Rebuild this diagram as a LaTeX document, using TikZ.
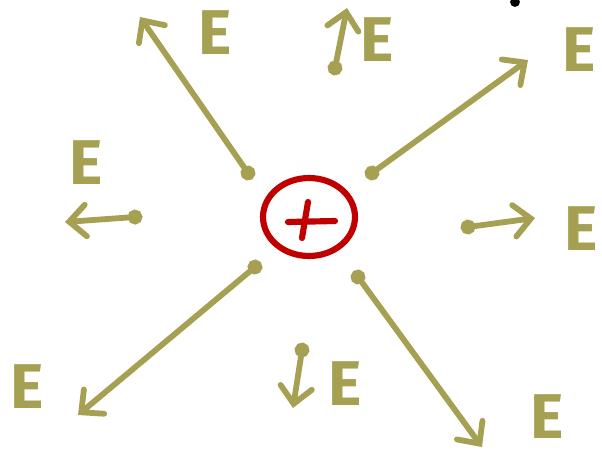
\documentclass[tikz,border=0pt]{standalone}
\usepackage{fontspec}
\setmainfont{Fira Sans}
\usetikzlibrary{arrows.meta,shapes.geometric}
\definecolor{fieldolive}{RGB}{165,160,82}
\definecolor{chargered}{RGB}{192,0,0}

\begin{document}
\begin{tikzpicture}[x=0.02cm, y=-0.02cm,
    fieldline/.style={draw=fieldolive, line width=3.3pt, line cap=round, shorten <=-4.2pt,
      {Circle[length=8.4pt]}-{Straight Barb[length=9.5pt, width=18pt, line cap=round]}},
    elabel/.style={text=fieldolive, font=\fontsize{36}{36}\selectfont\bfseries, inner sep=0pt}]
      \useasboundingbox (0,0) rectangle (602,457);
      % the charge
      \node[draw=chargered, line width=3.5pt, ellipse, minimum width=1.84cm, minimum height=1.56cm] (charge) at (309,217) {};
      \coordinate (plusL) at (288,222);
      \coordinate (plusR) at (335,221);
      \coordinate (plusT) at (308,202);
      \coordinate (plusB) at (302,238);
      \draw[chargered, line width=3.5pt, line cap=round] (plusL) -- (plusR);
      \draw[chargered, line width=3.5pt, line cap=round] (plusT) -- (plusB);
      \fill (515,2) circle (2.8pt);
      % field arrows: start dot and tip
      \coordinate (ulS) at (248,173);
      \coordinate (ulT) at (140,17);
      \coordinate (upS) at (335,68);
      \coordinate (upT) at (347,8);
      \coordinate (urS) at (372,173);
      \coordinate (urT) at (528,60);
      \coordinate (lfS) at (135,217);
      \coordinate (lfT) at (65,222);
      \coordinate (rtS) at (468,227);
      \coordinate (rtT) at (535,218);
      \coordinate (llS) at (255,267);
      \coordinate (llT) at (78,415);
      \coordinate (dnS) at (302,350);
      \coordinate (dnT) at (293,408);
      \coordinate (lrS) at (358,277);
      \coordinate (lrT) at (482,447);
      \draw[fieldline] (ulS) -- (ulT);
      \draw[fieldline] (upS) -- (upT);
      \draw[fieldline] (urS) -- (urT);
      \draw[fieldline] (lfS) -- (lfT);
      \draw[fieldline] (rtS) -- (rtT);
      \draw[fieldline] (llS) -- (llT);
      \draw[fieldline] (dnS) -- (dnT);
      \draw[fieldline] (lrS) -- (lrT);
      % labels
      \node[elabel] (eUL) at (215,33) {E};
      \node[elabel] (eUP) at (377,40) {E};
      \node[elabel] (eUR) at (579,50) {E};
      \node[elabel] (eLF) at (86,163) {E};
      \node[elabel] (eRT) at (581,229) {E};
      \node[elabel] (eLL) at (27,387) {E};
      \node[elabel] (eDN) at (345,384) {E};
      \node[elabel] (eLR) at (547,417) {E};
    \end{tikzpicture}
\end{document}
